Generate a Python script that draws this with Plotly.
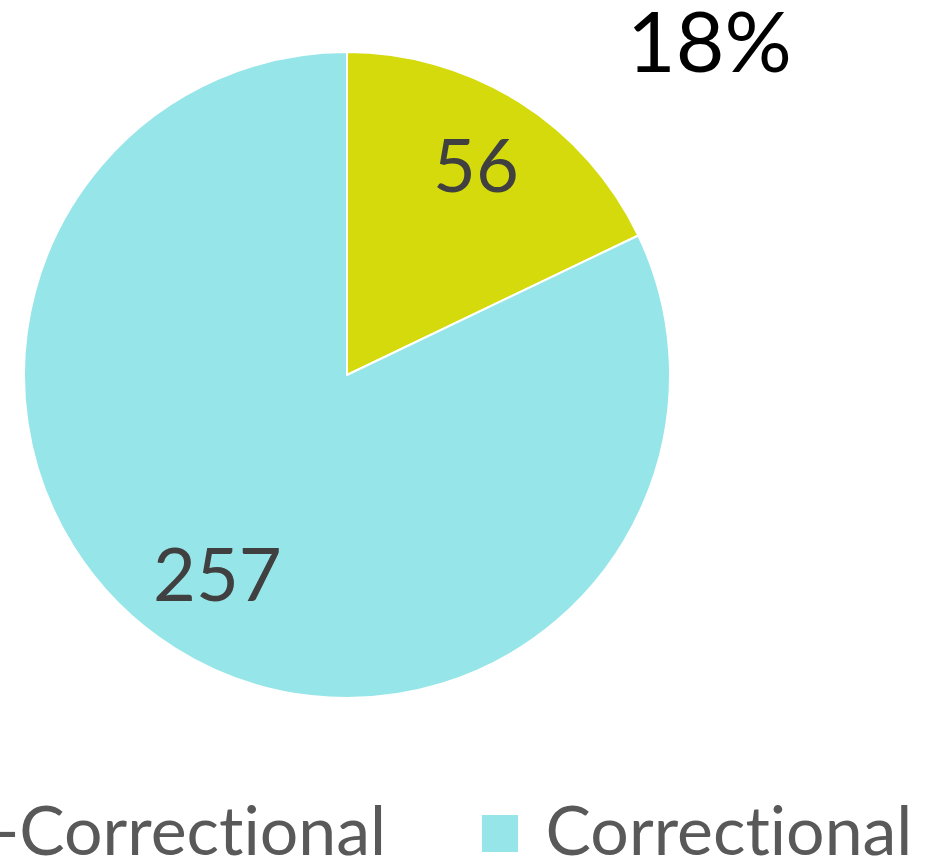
import math
import plotly.graph_objects as go

labels = ["Non-Correctional", "Correctional"]
values = [56, 257]
colors = ["#D4DA0B", "#96E5E8"]

W, H = 930, 860
FONT = "Lato"

def px(x):
    return x / W

def py(y):
    return 1 - y / H

# pie placement (pixels)
CX, CY, R = 347, 375, 323
LABEL_FRAC = 0.75

fig = go.Figure(go.Pie(
    labels=labels,
    values=values,
    sort=False,
    direction="clockwise",
    rotation=0,
    marker=dict(colors=colors, line=dict(color="white", width=2)),
    textinfo="none",
    domain=dict(x=[px(CX - R), px(CX + R)], y=[py(CY + R), py(CY - R)]),
    showlegend=False,
    hoverinfo="label+value+percent",
))

# value labels placed on each slice's bisector, derived from the data
total = sum(values)
annotations = []
cum = 0
for v in values:
    mid = (cum + v / 2) / total * 2 * math.pi
    cum += v
    lx = CX + LABEL_FRAC * R * math.sin(mid)
    ly = CY - LABEL_FRAC * R * math.cos(mid)
    annotations.append(dict(
        text=str(v), x=px(lx), y=py(ly), xref="paper", yref="paper",
        showarrow=False, xanchor="center", yanchor="middle", yshift=7,
        font=dict(family=FONT, size=74, color="#404040")))

pct = round(100 * values[0] / total)

annotations += [
    dict(text=f"{pct}%", x=px(709), y=py(40), xref="paper", yref="paper",
         showarrow=False, xanchor="center", yanchor="middle",
         font=dict(family=FONT, size=84, color="#000000")),
    dict(text=labels[0], x=px(389), y=py(828), xref="paper", yref="paper",
         showarrow=False, xanchor="right", yanchor="middle",
         font=dict(family=FONT, size=68, color="#595959")),
    dict(text=labels[1], x=px(543), y=py(828), xref="paper", yref="paper",
         showarrow=False, xanchor="left", yanchor="middle",
         font=dict(family=FONT, size=68, color="#595959")),
]

shapes = [
    dict(type="rect", xref="paper", yref="paper",
         x0=px(482), x1=px(518), y0=py(852), y1=py(815),
         fillcolor=colors[1], line=dict(width=0)),
]

fig.update_layout(
    width=W, height=H,
    margin=dict(l=0, r=0, t=0, b=0),
    paper_bgcolor="white",
    plot_bgcolor="white",
    annotations=annotations,
    shapes=shapes,
    font=dict(family=FONT),
)

post = (
    "document.body.style.margin='0';"
    "var s=document.createElement('style');"
    "s.textContent='text{font-variant-ligatures:none !important;}';"
    "document.head.appendChild(s);"
)

fig.write_html("out.html", post_script=post, config={"displayModeBar": False})
